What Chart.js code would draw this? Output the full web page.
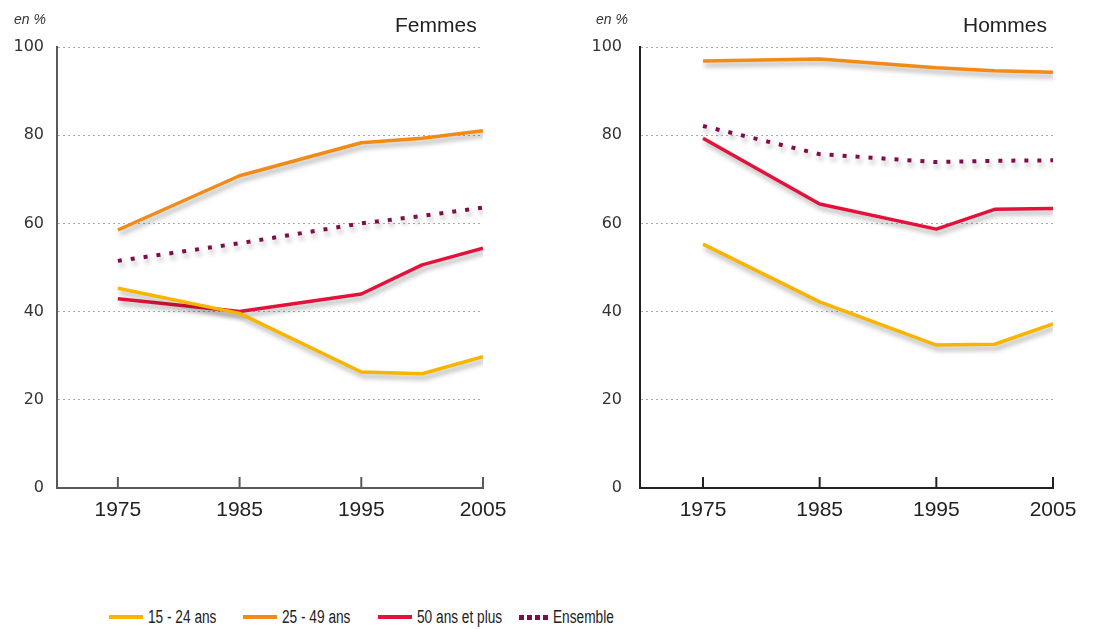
<!DOCTYPE html>
<html lang="fr">
<head>
<meta charset="utf-8">
<script src="https://cdn.jsdelivr.net/npm/chart.js@4.4.0/dist/chart.umd.min.js"></script>
<style>
    body {
        margin: 0;
        background: #fff;
        width: 1106px;
        height: 629px;
        position: relative;
        overflow: hidden;
        font-family: "Liberation Sans", "DejaVu Sans", sans-serif;
    }
    .panneau {
        position: absolute;
        top: 0;
        width: 553px;
        height: 560px;
    }
    .unite {
        position: absolute;
        top: 11px;
        font-style: italic;
        font-size: 14px;
        color: #333;
    }
    .titre {
        position: absolute;
        top: 13px;
        font-size: 21px;
        color: #222;
    }
    .item {
        position: absolute;
        top: 606px;
        height: 22px;
        display: flex;
        align-items: center;
        font-family: "Liberation Sans", sans-serif;
        font-size: 18px;
        color: #222;
        white-space: nowrap;
    }
    .item .texte {
        display: inline-block;
        transform: scaleX(0.76);
        transform-origin: left center;
    }
    .trait {
        width: 34px;
        height: 4px;
        margin-right: 5px;
    }
    .trait.pointille {
        width: 29px;
        height: 5px;
    }
</style>
</head>
<body>

<div class="panneau" style="left:0"><canvas id="femmes" width="553" height="560"></canvas></div>
<div class="panneau" style="left:553px"><canvas id="hommes" width="553" height="560"></canvas></div>

<div class="unite" style="left:14px">en %</div>
<div class="titre" style="left:395px">Femmes</div>
<div class="unite" style="left:596px">en %</div>
<div class="titre" style="left:963px">Hommes</div>

<div id="legende"></div>

<script>
// Données (taux d'activité, en %)
const annees = [1975, 1985, 1995, 2000, 2005];
const graduationsX = [1975, 1985, 1995, 2005];
const graduationsY = [0, 20, 40, 60, 80, 100];

const femmes15_24 = [45.3, 39.6, 26.3, 25.9, 29.8];
const femmes25_49 = [58.5, 70.8, 78.3, 79.3, 81.0];
const femmes50plus = [42.9, 40.0, 44.0, 50.6, 54.4];
const femmesEnsemble = [51.5, 55.5, 60.0, 61.7, 63.6];

const hommes15_24 = [55.3, 42.2, 32.4, 32.6, 37.2];
const hommes25_49 = [96.8, 97.3, 95.3, 94.6, 94.3];
const hommes50plus = [79.3, 64.4, 58.7, 63.2, 63.4];
const hommesEnsemble = [82.1, 75.7, 73.9, 74.2, 74.3];

const libelles = ["15 - 24 ans", "25 - 49 ans", "50 ans et plus", "Ensemble"];
const couleurs = ["#f7b500", "#f18a17", "#e2123c", "#800d4b"];

// Légende commune
const positionsLegende = [109, 243, 378, 519];
const legende = document.getElementById("legende");
libelles.forEach((lib, i) => {
    const fond = i === 3
        ? `repeating-linear-gradient(to right, ${couleurs[i]} 0 5px, transparent 5px 8px)`
        : couleurs[i];
    legende.innerHTML += `
        <div class="item" style="left:${positionsLegende[i]}px">
            <span class="trait${i === 3 ? " pointille" : ""}" style="background:${fond}"></span><span class="texte">${lib}</span>
        </div>
    `;
});

// Ombre portée sous les courbes
const ombre = {
    id: "ombre",
    beforeDatasetsDraw(chart) {
        const ctx = chart.ctx;
        ctx.save();
        ctx.shadowColor = "rgba(0,0,0,0.32)";
        ctx.shadowBlur = 5;
        ctx.shadowOffsetX = 2;
        ctx.shadowOffsetY = 4;
    },
    afterDatasetsDraw(chart) {
        chart.ctx.restore();
    }
};

// Petits tirets verticaux au-dessus de l'axe des x
const tirets = {
    id: "tirets",
    afterDraw(chart, args, opts) {
        const x = chart.scales.x;
        const y = chart.scales.y;
        const ctx = chart.ctx;
        ctx.save();
        ctx.strokeStyle = opts.couleur;
        ctx.lineWidth = 2;
        graduationsX.forEach(a => {
            const px = x.getPixelForValue(a);
            ctx.beginPath();
            ctx.moveTo(px, y.bottom);
            ctx.lineTo(px, y.bottom - 11);
            ctx.stroke();
        });
        ctx.restore();
    }
};

function serie(valeurs) {
    return annees.map((a, i) => ({ x: a, y: valeurs[i] }));
}

function creerGraphique(id, series, gauche, droite, debut, ecartY, couleurAxe) {

    const datasets = series.map((valeurs, i) => ({
        label: libelles[i],
        data: serie(valeurs),
        borderColor: couleurs[i],
        borderWidth: i === 3 ? 4 : 3.5,
        borderDash: i === 3 ? [4, 9] : [],
        borderCapStyle: "butt",
        borderJoinStyle: "round",
        pointRadius: 0,
        tension: 0
    }));

    new Chart(document.getElementById(id), {
        type: "line",
        data: { datasets: datasets },
        plugins: [ombre, tirets],
        options: {
            responsive: false,
            animation: false,
            devicePixelRatio: 1,
            layout: {
                padding: { top: 47, left: 0, right: 553 - droite, bottom: 0 }
            },
            plugins: {
                legend: { display: false },
                tooltip: { enabled: false },
                tirets: { couleur: couleurAxe }
            },
            scales: {
                x: {
                    type: "linear",
                    min: debut,
                    max: 2005,
                    afterBuildTicks: s => { s.ticks = graduationsX.map(v => ({ value: v })); },
                    afterFit: s => { s.height = 560 - 488; },
                    grid: { display: false, drawTicks: false },
                    border: { display: true, color: couleurAxe, width: 2 },
                    ticks: {
                        padding: 10,
                        color: "#222",
                        font: { family: "Liberation Sans", size: 21 },
                        callback: v => String(v),
                        maxRotation: 0
                    }
                },
                y: {
                    min: 0,
                    max: 100,
                    afterBuildTicks: s => { s.ticks = graduationsY.map(v => ({ value: v })); },
                    afterFit: s => { s.width = gauche; },
                    grid: { color: "#aaa", lineWidth: 1, drawTicks: false },
                    border: { display: true, color: couleurAxe, width: 2, dash: [2, 3] },
                    ticks: {
                        padding: ecartY,
                        color: "#333",
                        font: { family: "DejaVu Sans", size: 16 },
                        callback: v => String(v)
                    }
                }
            }
        }
    });
}

creerGraphique("femmes", [femmes15_24, femmes25_49, femmes50plus, femmesEnsemble], 57, 483, 1970, 13, "#5a5a5a");
creerGraphique("hommes", [hommes15_24, hommes25_49, hommes50plus, hommesEnsemble], 87, 500, 1969.6, 18, "#222");
</script>
</body>
</html>
